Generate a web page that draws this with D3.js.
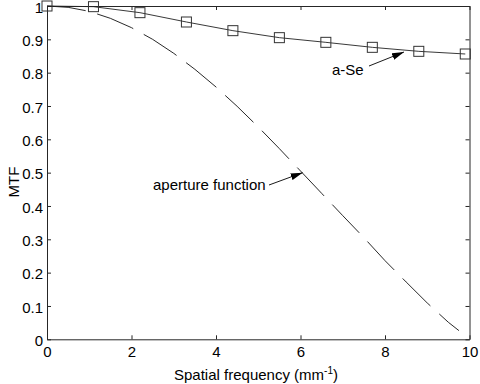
<!DOCTYPE html>
<html><head><meta charset="utf-8">
<script src="https://cdn.jsdelivr.net/npm/d3@7"></script>
<style>body{margin:0;background:#fff}svg{display:block}text{font-family:Arial,"Liberation Sans",sans-serif;fill:#000}</style>
</head><body><svg id="c" width="480" height="384"></svg>
<script>
const aSeFreq = [0, 1.1, 2.2, 3.3, 4.4, 5.5, 6.6, 7.7, 8.8, 9.9];
const aSeMTF  = [1.0, 0.998, 0.980, 0.952, 0.926, 0.905, 0.891, 0.876, 0.864, 0.856];
const apFreq = [0, 0.5, 1, 1.5, 2, 2.5, 3, 3.5, 4, 4.5, 5, 5.5, 6, 6.5, 7, 7.5, 8, 8.5, 9, 9.5, 9.75];
const apMTF  = [1.0, 0.996, 0.984, 0.963, 0.935, 0.900, 0.858, 0.810, 0.757, 0.699, 0.637, 0.572, 0.505, 0.438, 0.371, 0.305, 0.236, 0.172, 0.109, 0.051, 0.026];
const xTicks = [0, 2, 4, 6, 8, 10];
const yTicks = [0, 0.1, 0.2, 0.3, 0.4, 0.5, 0.6, 0.7, 0.8, 0.9, 1];

const svg = d3.select("#c");
const L = 47, R = 469.5, T = 6, B = 339.3;
const x = d3.scaleLinear().domain([0, 10]).range([L, R]);
const y = d3.scaleLinear().domain([0, 1]).range([B, T]);
const ax = "#262626";
const FS = "15px";

// axes with inward ticks on all sides
const gB = svg.append("g").attr("transform", `translate(0,${B})`)
  .call(d3.axisBottom(x).tickValues(xTicks).tickSizeInner(-4).tickSizeOuter(0).tickPadding(7).tickFormat(d3.format("d")));
const gT = svg.append("g").attr("transform", `translate(0,${T})`)
  .call(d3.axisTop(x).tickValues(xTicks).tickSizeInner(-4).tickSizeOuter(0).tickFormat(""));
const gL = svg.append("g").attr("transform", `translate(${L},0)`)
  .call(d3.axisLeft(y).tickValues(yTicks).tickSizeInner(-4).tickSizeOuter(0).tickPadding(4).tickFormat(d => d === 0 || d === 1 ? d3.format("d")(d) : d3.format(".1f")(d)));
const gR = svg.append("g").attr("transform", `translate(${R},0)`)
  .call(d3.axisRight(y).tickValues(yTicks).tickSizeInner(-4).tickSizeOuter(0).tickFormat(""));
[gB, gT, gL, gR].forEach(g => {
  g.select(".domain").attr("stroke", ax).attr("stroke-width", 1);
  g.selectAll(".tick line").attr("stroke", ax);
  g.selectAll("text").style("font-family", "Arial, 'Liberation Sans', sans-serif").style("font-size", FS).attr("fill", "#000");
});
gB.selectAll("text").attr("dy", "0.71em");
gL.selectAll("text").attr("dy", "0.42em");

// aperture function dashed
const line = d3.line().x(d => x(d[0])).y(d => y(d[1]));
svg.append("path").datum(apFreq.map((f, i) => [f, apMTF[i]]))
  .attr("d", line).attr("fill", "none").attr("stroke", "#111").attr("stroke-width", 0.9)
  .attr("stroke-dasharray", "39,12");

// a-Se solid with squares
const aData = aSeFreq.map((f, i) => [f, aSeMTF[i]]);
svg.append("path").datum(aData).attr("d", line).attr("fill", "none").attr("stroke", "#222").attr("stroke-width", 0.9);
svg.selectAll("rect.m").data(aData).enter().append("rect").attr("class", "m")
  .attr("x", d => x(d[0]) - 5).attr("y", d => y(d[1]) - 5).attr("width", 10).attr("height", 10)
  .attr("fill", "none").attr("stroke", "#333").attr("stroke-width", 1);

// annotations
svg.append("defs").append("marker").attr("id", "ah").attr("viewBox", "0 0 12 7")
  .attr("refX", 12).attr("refY", 3.5).attr("markerWidth", 12).attr("markerHeight", 7)
  .attr("markerUnits", "userSpaceOnUse").attr("orient", "auto")
  .append("path").attr("d", "M0,0L12,3.5L0,7Z").attr("fill", "#000");

function annot(label, tx, ty, x1, y1, x2, y2) {
  svg.append("text").attr("x", tx).attr("y", ty).style("font-size", FS).text(label);
  svg.append("line").attr("x1", x1).attr("y1", y1).attr("x2", x2).attr("y2", y2)
    .attr("stroke", "#000").attr("stroke-width", 0.9).attr("marker-end", "url(#ah)");
}
annot("a-Se", 332, 75, 369, 66, x(8.45), y(0.862));
annot("aperture function", 153, 190, 269, 185, x(6.05), y(0.5));

// axis labels
svg.append("text").attr("transform", `translate(19,182) rotate(-90)`)
  .attr("text-anchor", "middle").style("font-size", FS).text("MTF");
const xl = svg.append("text").attr("x", 256).attr("y", 380).attr("text-anchor", "middle").style("font-size", FS);
xl.append("tspan").text("Spatial frequency (mm");
xl.append("tspan").attr("dy", -6).style("font-size", "10px").text("-1");
xl.append("tspan").attr("dy", 6).text(")");
</script></body></html>
